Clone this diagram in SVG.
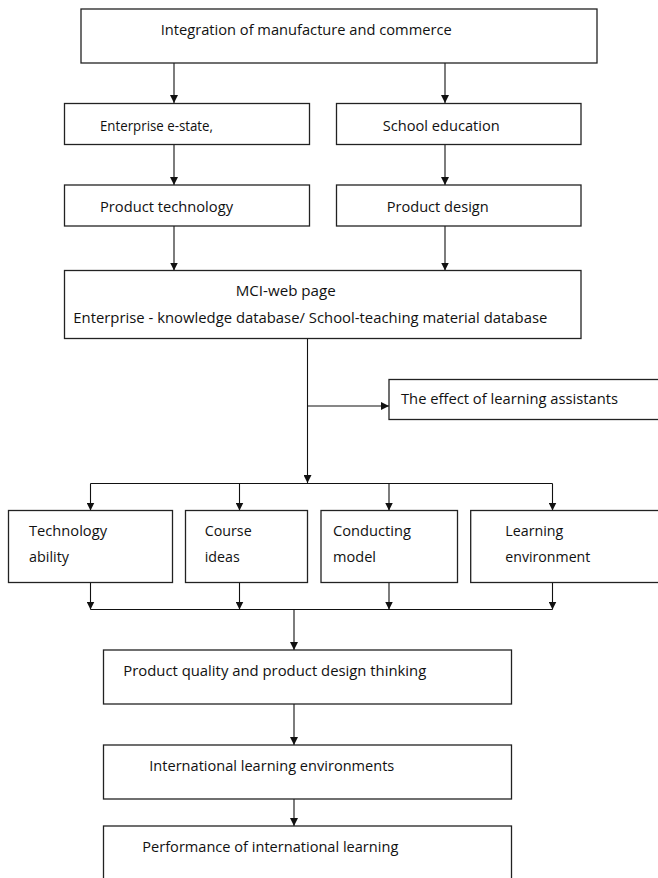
<svg xmlns="http://www.w3.org/2000/svg" width="658" height="878" viewBox="0 0 658 878">
<style>
.box{fill:#fff;stroke:#222;stroke-width:1.3}
.t{font-family:"Open Sans","Liberation Sans",sans-serif;font-size:14.5px;fill:#111}
.c{fill:none;stroke:#111;stroke-width:1.1}
</style>
<defs>
<marker id="ah" markerUnits="userSpaceOnUse" markerWidth="8" markerHeight="8" refX="8" refY="4" orient="auto">
<path d="M0,0 L8,4 L0,8 Z" fill="#111"/>
</marker>
</defs>
<rect width="658" height="878" fill="#fff"/>
<g id="connectors">
<line class="c" x1="174" y1="63" x2="174" y2="103" marker-end="url(#ah)"/>
<line class="c" x1="445" y1="63" x2="445" y2="103" marker-end="url(#ah)"/>
<line class="c" x1="174" y1="144.5" x2="174" y2="185" marker-end="url(#ah)"/>
<line class="c" x1="445" y1="144.5" x2="445" y2="185" marker-end="url(#ah)"/>
<line class="c" x1="174" y1="226" x2="174" y2="270.5" marker-end="url(#ah)"/>
<line class="c" x1="445" y1="226" x2="445" y2="270.5" marker-end="url(#ah)"/>
<line class="c" x1="307.5" y1="338.5" x2="307.5" y2="483" marker-end="url(#ah)"/>
<line class="c" x1="307.5" y1="406" x2="389" y2="406" marker-end="url(#ah)"/>
<line class="c" x1="90.5" y1="483.5" x2="552.5" y2="483.5"/>
<line class="c" x1="90.5" y1="483.5" x2="90.5" y2="510.5" marker-end="url(#ah)"/>
<line class="c" x1="239.5" y1="483.5" x2="239.5" y2="510.5" marker-end="url(#ah)"/>
<line class="c" x1="389" y1="483.5" x2="389" y2="510.5" marker-end="url(#ah)"/>
<line class="c" x1="552.5" y1="483.5" x2="552.5" y2="510.5" marker-end="url(#ah)"/>
<line class="c" x1="90.5" y1="582.5" x2="90.5" y2="609.5" marker-end="url(#ah)"/>
<line class="c" x1="239.5" y1="582.5" x2="239.5" y2="609.5" marker-end="url(#ah)"/>
<line class="c" x1="389" y1="582.5" x2="389" y2="609.5" marker-end="url(#ah)"/>
<line class="c" x1="552.5" y1="582.5" x2="552.5" y2="609.5" marker-end="url(#ah)"/>
<line class="c" x1="90.5" y1="609.5" x2="552.5" y2="609.5"/>
<line class="c" x1="294" y1="609.5" x2="294" y2="650" marker-end="url(#ah)"/>
<line class="c" x1="294" y1="704" x2="294" y2="745" marker-end="url(#ah)"/>
<line class="c" x1="294" y1="799" x2="294" y2="826" marker-end="url(#ah)"/>
</g>
<g id="n_integration">
<rect class="box" x="81" y="9" width="516" height="54"/>
<text class="t" x="160.7" y="34.5" textLength="291" lengthAdjust="spacingAndGlyphs">Integration of manufacture and commerce</text>
</g>
<g id="n_enterprise">
<rect class="box" x="64.5" y="103.5" width="245" height="41"/>
<text class="t" x="100" y="130.5" textLength="113" lengthAdjust="spacingAndGlyphs">Enterprise e-state,</text>
</g>
<g id="n_school">
<rect class="box" x="336.5" y="103.5" width="244.5" height="41"/>
<text class="t" x="382.7" y="130.5" textLength="117" lengthAdjust="spacingAndGlyphs">School education</text>
</g>
<g id="n_prodtech">
<rect class="box" x="64.5" y="185" width="245" height="41"/>
<text class="t" x="100" y="211.5" textLength="133" lengthAdjust="spacingAndGlyphs">Product technology</text>
</g>
<g id="n_proddesign">
<rect class="box" x="336.5" y="185" width="244.5" height="41"/>
<text class="t" x="386.7" y="211.5" textLength="102" lengthAdjust="spacingAndGlyphs">Product design</text>
</g>
<g id="n_mci">
<rect class="box" x="64.5" y="270.5" width="516.5" height="68"/>
<text class="t" x="235.7" y="296" textLength="100" lengthAdjust="spacingAndGlyphs">MCI-web page</text>
<text class="t" x="73.3" y="322.5" textLength="474" lengthAdjust="spacingAndGlyphs">Enterprise - knowledge database/ School-teaching material database</text>
</g>
<g id="n_effect">
<rect class="box" x="389" y="379.5" width="280" height="40"/>
<text class="t" x="401" y="404" textLength="217" lengthAdjust="spacingAndGlyphs">The effect of learning assistants</text>
</g>
<g id="n_tech">
<rect class="box" x="8.5" y="510.5" width="164" height="72"/>
<text class="t" x="29" y="536" textLength="78" lengthAdjust="spacingAndGlyphs">Technology</text>
<text class="t" x="29" y="562" textLength="40" lengthAdjust="spacingAndGlyphs">ability</text>
</g>
<g id="n_course">
<rect class="box" x="185.5" y="510.5" width="122" height="72"/>
<text class="t" x="204.7" y="536" textLength="47" lengthAdjust="spacingAndGlyphs">Course</text>
<text class="t" x="204.7" y="562" textLength="35" lengthAdjust="spacingAndGlyphs">ideas</text>
</g>
<g id="n_conducting">
<rect class="box" x="321" y="510.5" width="136.5" height="72"/>
<text class="t" x="333" y="536" textLength="78" lengthAdjust="spacingAndGlyphs">Conducting</text>
<text class="t" x="333" y="562" textLength="43" lengthAdjust="spacingAndGlyphs">model</text>
</g>
<g id="n_learning">
<rect class="box" x="470.7" y="510.5" width="200" height="72"/>
<text class="t" x="505.3" y="536" textLength="58" lengthAdjust="spacingAndGlyphs">Learning</text>
<text class="t" x="505.3" y="562" textLength="85" lengthAdjust="spacingAndGlyphs">environment</text>
</g>
<g id="n_quality">
<rect class="box" x="103.5" y="650" width="408" height="54"/>
<text class="t" x="123.3" y="676" textLength="303" lengthAdjust="spacingAndGlyphs">Product quality and product design thinking</text>
</g>
<g id="n_intl">
<rect class="box" x="103.5" y="745" width="408" height="54"/>
<text class="t" x="149.3" y="771" textLength="245" lengthAdjust="spacingAndGlyphs">International learning environments</text>
</g>
<g id="n_perf">
<rect class="box" x="103.5" y="826" width="408" height="70"/>
<text class="t" x="142.3" y="851.5" textLength="256" lengthAdjust="spacingAndGlyphs">Performance of international learning</text>
</g>
</svg>
